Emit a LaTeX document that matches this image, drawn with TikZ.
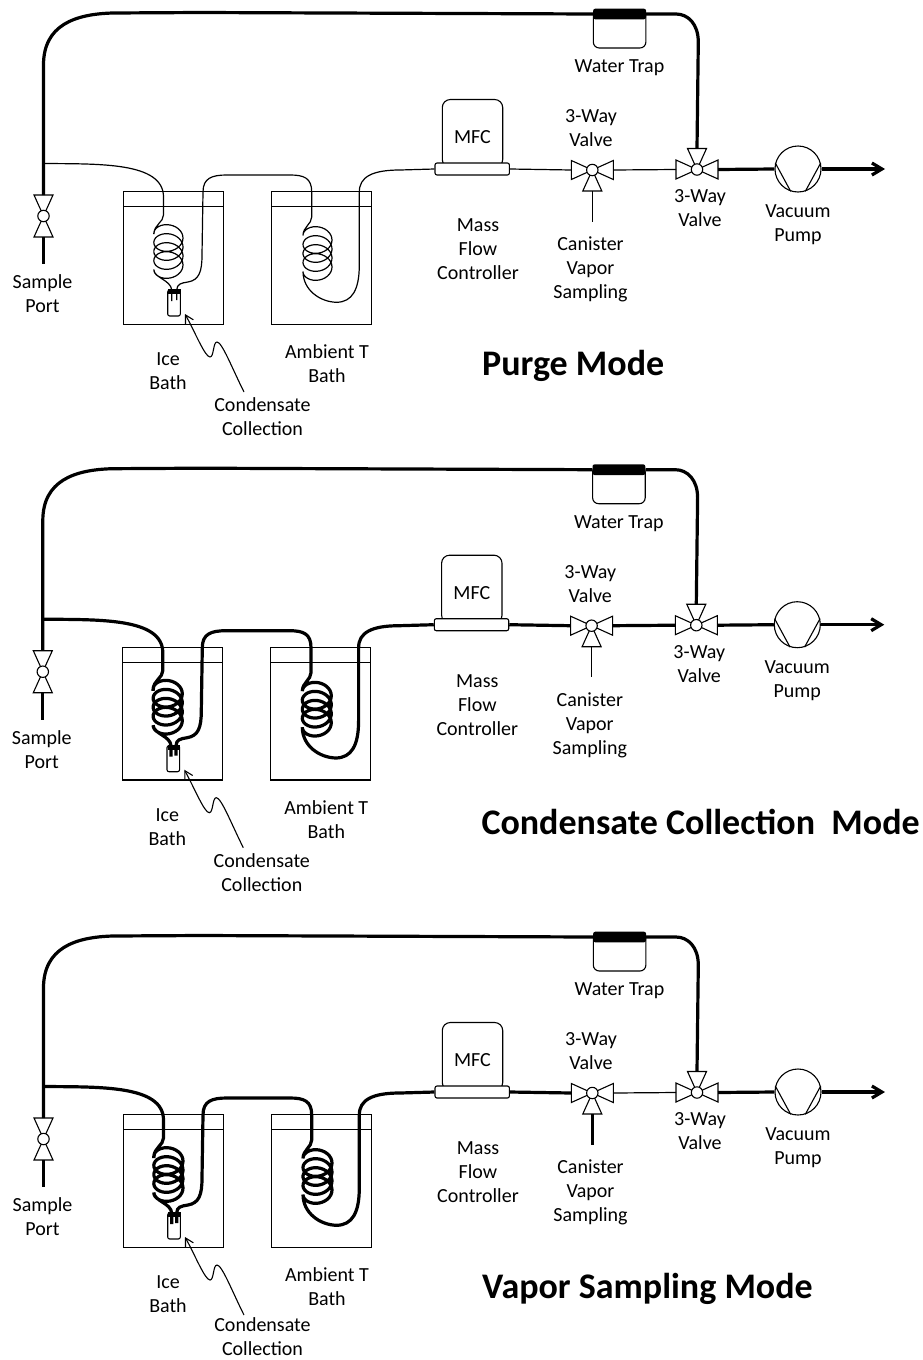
\documentclass[tikz,border=0pt]{standalone}
\usepackage{fontspec}
\setmainfont{Carlito}
\usetikzlibrary{arrows.meta}
\tikzset{thinline/.style = {line width=1.1pt, black},
         thinpipe/.style = {line width=1.2pt, black},
         fatpipe/.style = {line width=3.2pt, black},
         labeltext/.style = {align=center, inner sep=0pt, font=\fontsize{20}{24}\selectfont},
         modetext/.style = {anchor=west, inner sep=0pt, font=\fontsize{36}{40}\selectfont\bfseries},
         valvebody/.style = {circle, thinline, draw, fill=white, minimum size=11.4pt, inner sep=0pt},
         bathbox/.style = {rectangle, thinline, draw, minimum width=100.5pt, minimum height=132.5pt, inner sep=0pt},
         softbox/.style = {rectangle, thinline, draw, fill=white, inner sep=0pt},
         blackcap/.style = {rectangle, fill=black, inner sep=0pt},
         flap/.pic = {\draw [thinline, fill=white] (0, 0) -- (-9.5, -21) -- (9.5, -21) -- cycle;
                      \coordinate (-base) at (0, -21);},
         > = {Straight Barb[length=10pt, width=12pt]}}

\begin{document}
\begin{tikzpicture}[x=1pt, y=-1pt]
    \useasboundingbox (0, 0) rectangle (923, 1360);

    \foreach \n/\dx/\dy/\condy/\modename/\coil/\valves/\can in {
        a/0/0/416.5/Purge Mode/thinpipe/thinpipe/thinpipe,
        b/-0.7/455.7/416.5/Condensate Collection~ Mode/fatpipe/fatpipe/thinpipe,
        c/0/923/413.5/Vapor Sampling Mode/fatpipe/thinpipe/fatpipe} {
      \begin{scope}[shift={(\dx, \dy)}]
        % baths and vial
        \node [bathbox] (ice\n) at (173.3, 258) {};
        \node [bathbox] (amb\n) at (321.3, 258) {};
        \draw [thinline] (123, 206.7) coordinate (iceL\n) -- (iceL\n -| ice\n.east);
        \draw [thinline] (271, 206.7) coordinate (ambL\n) -- (ambL\n -| amb\n.east);
        \node [softbox, rounded corners=2pt, minimum width=12.6pt, minimum height=26pt] (vial\n) at (174, 303) {};
        \node [blackcap, minimum width=12.8pt, minimum height=5pt] (cap\n) at (174.7, 291.8) {};

        % valves
        \pic (pUp\n) at (43.5, 216) {flap};
        \pic (pDn\n) [rotate=180] at (43.5, 216) {flap};
        \node [valvebody] (port\n) at (43.5, 216) {};
        \pic (oneL\n) [rotate=90] at (592.3, 170) {flap};
        \pic (oneR\n) [rotate=-90] at (592.3, 170) {flap};
        \pic (oneD\n) [rotate=180] at (592.3, 170) {flap};
        \node [valvebody] (one\n) at (592.3, 170) {};
        \pic (twoL\n) [rotate=90] at (697, 169.5) {flap};
        \pic (twoR\n) [rotate=-90] at (697, 169.5) {flap};
        \pic (twoU\n) at (697, 169.5) {flap};
        \node [valvebody] (two\n) at (697, 169.5) {};

        % boxes
        \node [softbox, rounded corners=8pt, minimum width=60.4pt, minimum height=68pt] (mfcbody\n) at (472.5, 133.5) {};
        \node [softbox, rounded corners=2pt, minimum width=74.4pt, minimum height=12pt] (mfc\n) at (472.2, 169) {};
        \node [labeltext] (mfctext\n) at (472.5, 137) {MFC};
        \node [softbox, rounded corners=6pt, minimum width=52.6pt, minimum height=38pt] (trapbody\n) at (619.6, 29) {};
        \node [blackcap, rounded corners=2pt, minimum width=52.8pt, minimum height=10.6pt] (trap\n) at (619.6, 14) {};
        \node [circle, thinline, draw, minimum size=46pt, inner sep=0pt] (pump\n) at (798, 169) {};
        \draw [thinline] (pump\n.165) -- (pump\n.-108);
        \draw [thinline] (pump\n.15) -- (pump\n.-72);

        % pipes
        \coordinate (tee\n) at (43.5, 163.5);
        \coordinate (portend\n) at (43.5, 264);
        \coordinate (canend\n) at (592.3, 221.5);
        \coordinate (exit\n) at (885, 169);
        \draw [fatpipe] (pDn\n-base) -- (portend\n);
        \draw [fatpipe] (pUp\n-base) -- (43.5, 65) .. controls (43.5, 25) and (75, 14) .. (113, 13)
          -- (200, 12.5) -- (trap\n.west);
        \draw [fatpipe] (trap\n.east) -- (676, 14) .. controls (688, 14) and (698.3, 24) .. (698.3, 42)
          -- (twoU\n-base);
        \draw [fatpipe] (twoR\n-base) -- (pump\n.west);
        \draw [fatpipe, ->] (pump\n.east) -- (exit\n);
        \draw [\can] (oneD\n-base) -- (canend\n);
        \draw [\valves] (oneR\n-base) -- (twoL\n-base);
        \draw [\coil] (mfc\n.east) -- (oneL\n-base);
        \draw [\coil] (tee\n) .. controls (100, 164) and (163.5, 162) .. (163.5, 197) -- (163.5, 215)
          .. controls (163.5, 222) and (154, 225) .. (154, 233.5)
          -- plot [smooth, domain=0:1440, samples=120] ({168.4 - 14.6 * cos(\x)}, {233.5 + 9 * \x / 360 - 11 * sin(\x)})
          .. controls (154, 278) and (171, 280) .. (171.7, 290) -- (171.7, 301);
        \draw [\coil] (176.7, 300) -- (176.7, 290) .. controls (177, 284) and (181, 283) .. (188, 282)
          .. controls (199, 280) and (202, 272) .. (202, 255) -- (203, 192)
          .. controls (203, 178) and (212, 175) .. (227, 175) -- (290, 175)
          .. controls (304, 175) and (311.7, 178) .. (311.7, 192) -- (311.7, 217)
          .. controls (311.7, 224) and (303, 227) .. (303, 235.5)
          -- plot [smooth, domain=0:1440, samples=120] ({317.5 - 14.5 * cos(\x)}, {235.5 + 9 * \x / 360 - 11 * sin(\x)})
          .. controls (303, 290) and (320, 302) .. (336.7, 302.3)
          .. controls (352, 302) and (359.3, 290) .. (359.3, 265) -- (359.3, 192)
          .. controls (359.3, 177) and (372, 170) .. (400, 170) -- (mfc\n.west);
        \coordinate (callout\n) at (244, 392);
        \coordinate (vialtip\n) at (185, 314);
        \draw [thinline, ->, > = {Straight Barb[length=8pt, width=9pt]}] (callout\n) .. controls (232, 368) and (222, 342) .. (217, 342)
          .. controls (213, 342) and (214, 357) .. (210, 357)
          .. controls (205, 357) and (195, 332) .. (vialtip\n);

        % labels
        \node [labeltext] (sample\n) at (42.5, 293.5) {Sample\\Port};
        \node [labeltext] (icetext\n) at (168, 371.5) {Ice\\Bath};
        \node [labeltext] (ambtext\n) at (327, 364) {Ambient T\\Bath};
        \node [labeltext] (condtext\n) at (262.5, \condy) {Condensate\\Collection};
        \node [labeltext] (masstext\n) at (478, 249) {Mass\\Flow\\Controller};
        \node [labeltext] (cantext\n) at (590.5, 269.5) {Canister\\Vapor\\Sampling};
        \node [labeltext] (onetext\n) at (591, 128.5) {3-Way\\Valve};
        \node [labeltext] (twotext\n) at (700, 208) {3-Way\\Valve};
        \node [labeltext] (pumptext\n) at (798, 224.5) {Vacuum\\Pump};
        \node [labeltext] (traptext\n) at (619.5, 68) {Water Trap};
        \node [modetext] (mode\n) at (482, 366) {\modename};
      \end{scope}
    }
  \end{tikzpicture}
\end{document}
